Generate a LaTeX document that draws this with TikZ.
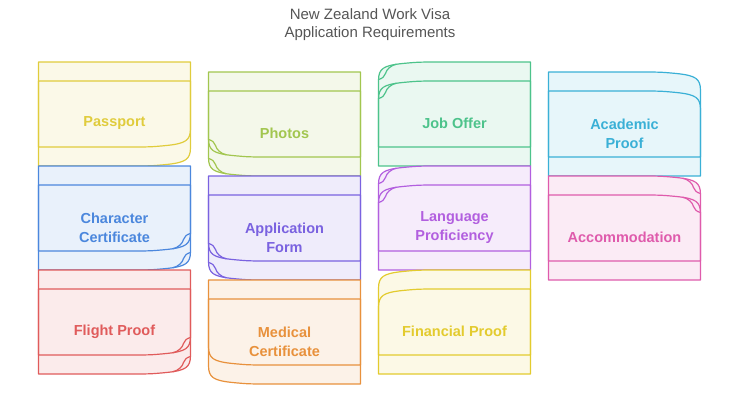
\documentclass[tikz,border=0pt]{standalone}
\usepackage{fontspec}
\setmainfont{Liberation Sans}

\definecolor{cyellow}{HTML}{E0CC3C}
\definecolor{cgreen}{HTML}{A2C64F}
\definecolor{cmint}{HTML}{4DC38B}
\definecolor{ccyan}{HTML}{3AB0D6}
\definecolor{cblue}{HTML}{4B87DD}
\definecolor{cviolet}{HTML}{7A62E0}
\definecolor{cpurple}{HTML}{B25FDF}
\definecolor{cpink}{HTML}{DF5BAC}
\definecolor{cred}{HTML}{E05B5B}
\definecolor{corange}{HTML}{E8913C}
\definecolor{cgold}{HTML}{E3CB2E}
\definecolor{titlegrey}{HTML}{555555}

\tikzset{
  paperline/.style={draw=#1, line width=1.2pt, line join=round},
  papertext/.style={text=#1, font=\bfseries\fontsize{14.5}{19}\selectfont, align=center},
  titletext/.style={text=titlegrey, font=\fontsize{15}{18}\selectfont, align=center}
}

% one sheet, curled corner at bottom right (mirror it for the others)
\newcommand{\sheetshape}{(-76,-42.5) -- (76,-42.5) -- (76,24) .. controls (76,36) and (71,39) .. (52,41) .. controls (36,42.5) .. (10,42.5) -- (-76,42.5) -- cycle}
\newcommand{\foldshape}{(76,25) .. controls (72,26) and (70,28) .. (69,31) .. controls (68,35) and (64,39) .. (58,40.4)}

% name, x, top, colour, xscale, yscale, fold, text
\newcommand{\paper}[8]{%
  \foreach \dy in {0,19}{
    \begin{scope}[shift={(#2,#3+42.5+\dy)},xscale=#5,yscale=#6]
      \fill[#4!12!white] \sheetshape;
    \end{scope}}
  \foreach \dy in {0,19}{
    \begin{scope}[shift={(#2,#3+42.5+\dy)},xscale=#5,yscale=#6]
      \draw[paperline=#4] \sheetshape;
      \ifnum#7=1\relax \draw[paperline=#4] \foldshape; \fi
    \end{scope}}
  \node[papertext=#4] (#1) at (#2,#3+61.5) {#8};
}

\begin{document}
\begin{tikzpicture}[x=1pt,y=-1pt]
\useasboundingbox (0,0) rectangle (740,400);

\node[titletext] (title) at (370,25) {New Zealand Work Visa\\Application Requirements};

\paper{passport}{114.5}{62}{cyellow}{1}{1}{0}{Passport}
\paper{charcert}{114.5}{166}{cblue}{1}{1}{1}{Character\\Certificate}
\paper{flight}{114.5}{270}{cred}{1}{1}{1}{Flight Proof}

\paper{photos}{284.5}{72}{cgreen}{-1}{1}{1}{Photos}
\paper{appform}{284.5}{176}{cviolet}{-1}{1}{1}{Application\\Form}
\paper{medical}{284.5}{280}{corange}{-1}{1}{0}{Medical\\Certificate}

\paper{joboffer}{454.5}{62}{cmint}{-1}{-1}{1}{Job Offer}
\paper{language}{454.5}{166}{cpurple}{-1}{-1}{1}{Language\\Proficiency}
\paper{financial}{454.5}{270}{cgold}{-1}{-1}{0}{Financial Proof}

\paper{academic}{624.5}{72}{ccyan}{1}{-1}{0}{Academic\\Proof}
\paper{accomm}{624.5}{176}{cpink}{1}{-1}{1}{Accommodation}
\end{tikzpicture}
\end{document}
